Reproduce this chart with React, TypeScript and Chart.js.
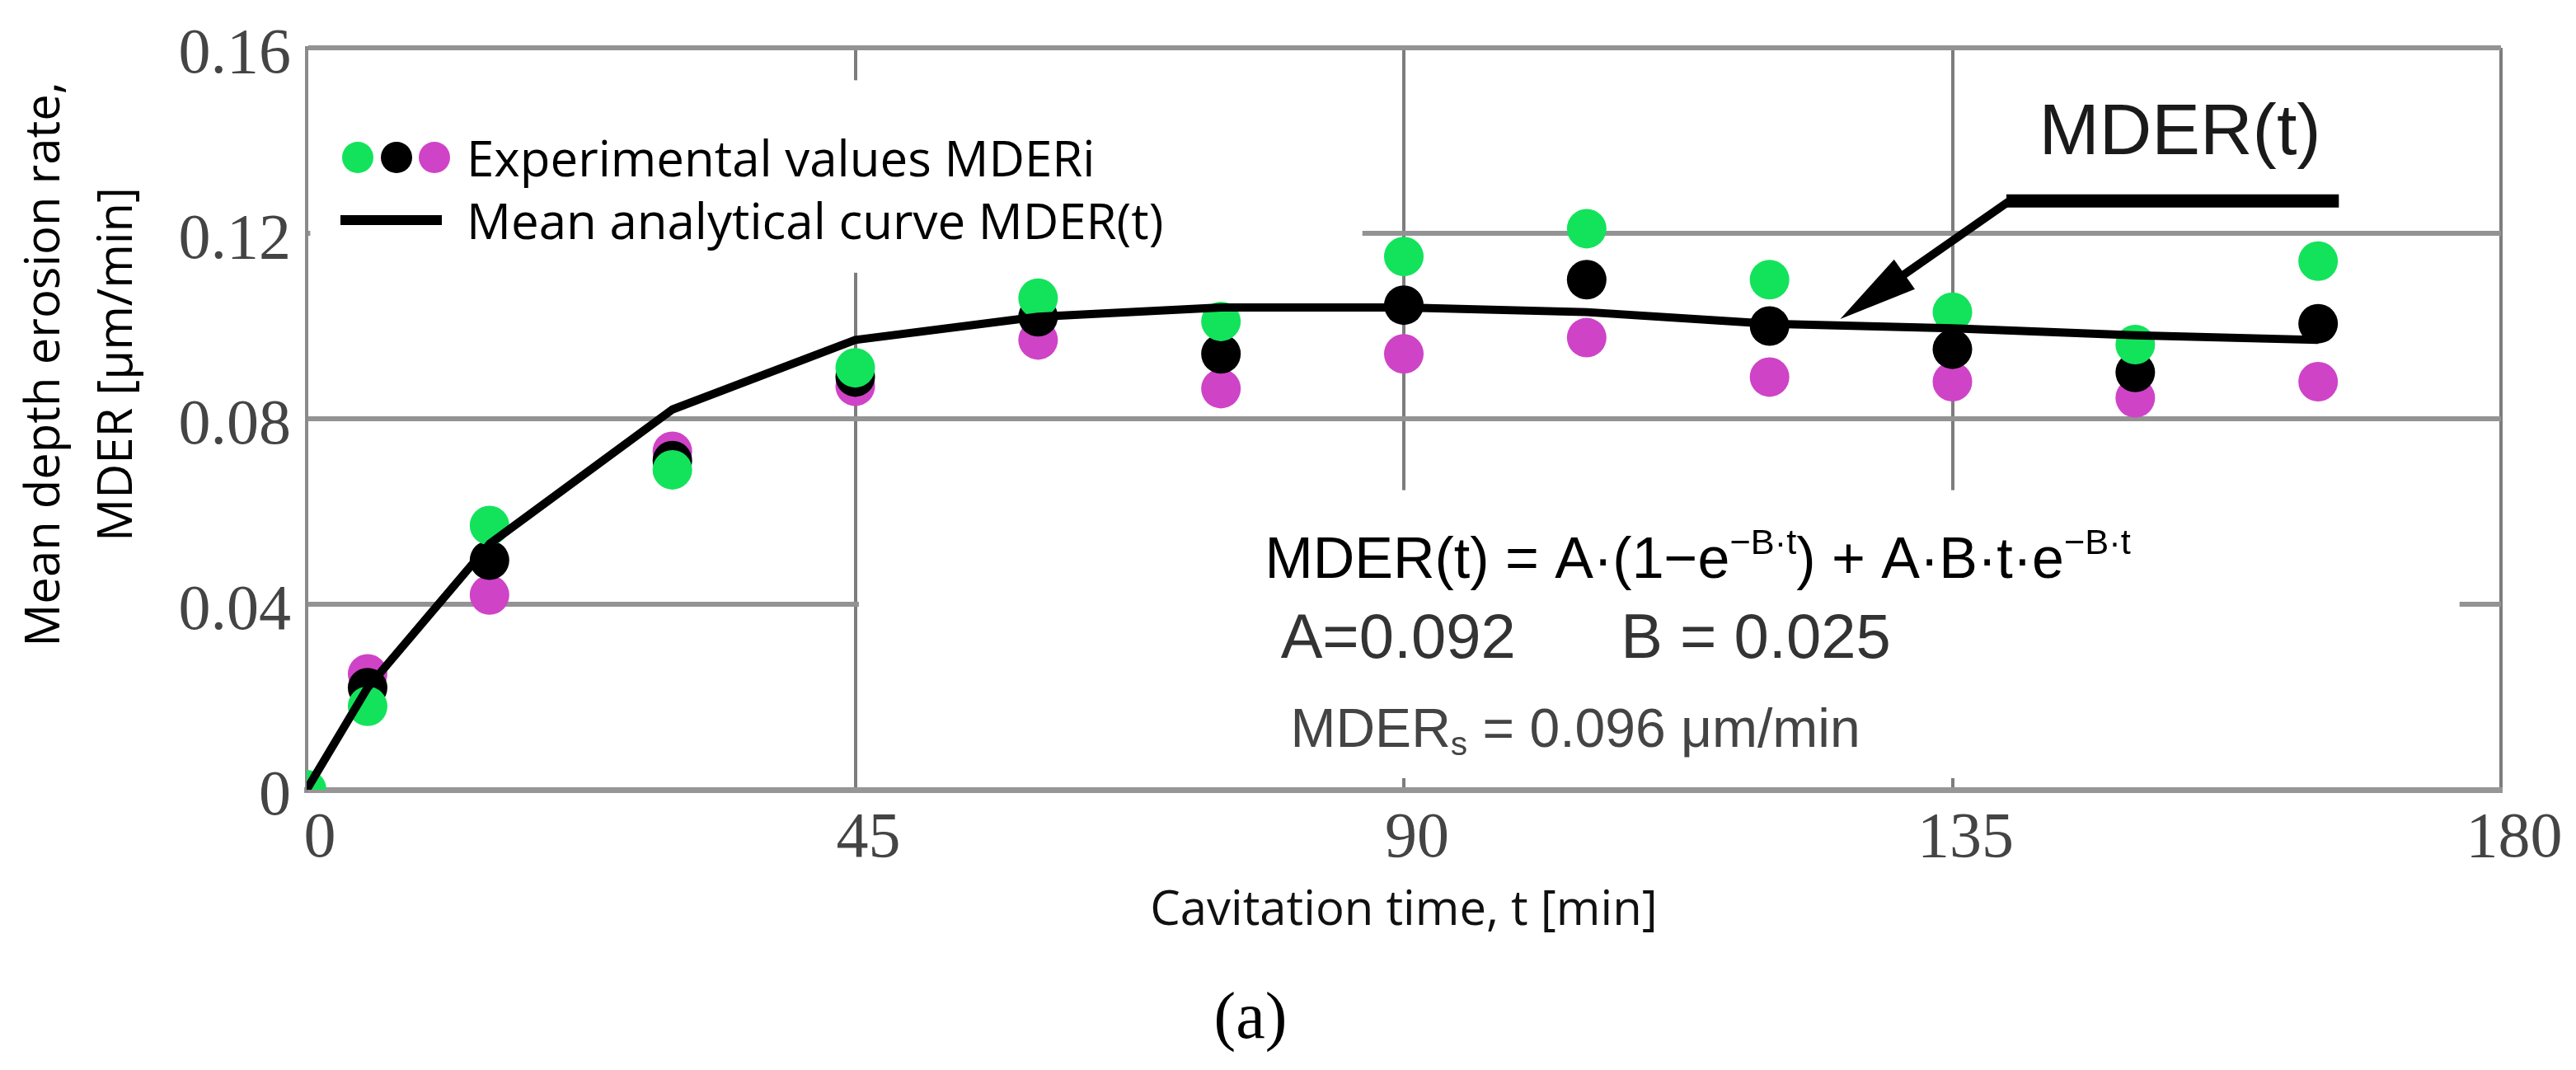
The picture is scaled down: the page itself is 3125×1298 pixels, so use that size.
import { useEffect, useRef } from "react"
import { Chart, registerables } from "chart.js"
import type { Plugin } from "chart.js"

Chart.register(...registerables)

// cavitation time, min
const times = [0, 5, 15, 30, 45, 60, 75, 90, 105, 120, 135, 150, 165]

// experimental MDERi of the three specimens, µm/min
const greenValues = [0, 0.018, 0.057, 0.069, 0.091, 0.106, 0.101, 0.115, 0.121, 0.11, 0.103, 0.096, 0.114]
const blackValues = [null, 0.022, 0.0495, 0.071, 0.089, 0.102, 0.094, 0.1045, 0.11, 0.1, 0.095, 0.09, 0.1005]
const magentaValues = [null, 0.025, 0.042, 0.073, 0.087, 0.097, 0.0865, 0.094, 0.0975, 0.089, 0.088, 0.0845, 0.088]

// mean analytical curve MDER(t)
const curveValues = [0, 0.022, 0.053, 0.082, 0.097, 0.102, 0.104, 0.104, 0.103, 0.1005, 0.0995, 0.098, 0.097]

const xTicks = [0, 45, 90, 135, 180]
const yTicks = [0, 0.04, 0.08, 0.12, 0.16]

const GREEN = "#12e35b"
const BLACK = "#000000"
const MAGENTA = "#cf43c7"
const SANS = '"Open Sans", sans-serif'
const ARIAL = '"Liberation Sans", Arial, sans-serif'
const SERIF = '"Liberation Serif", serif'

const toPoints = (values: (number | null)[]) =>
  times.flatMap((t, i) => (values[i] === null ? [] : [{ x: t, y: values[i] as number }]))

type Run = [string, "n" | "sup" | "sub"]

function drawRuns(ctx: CanvasRenderingContext2D, runs: Run[], x: number, y: number, size: number) {
  let cx = x
  for (const [text, kind] of runs) {
    const s = kind === "n" ? size : size * 0.62
    const dy = kind === "sup" ? -size * 0.42 : kind === "sub" ? size * 0.16 : 0
    ctx.font = `${s}px ${ARIAL}`
    ctx.fillText(text, cx, y + dy)
    cx += ctx.measureText(text).width
  }
}

const annotations: Plugin<"scatter"> = {
  id: "mderAnnotations",
  beforeDatasetsDraw(chart) {
    const { ctx, scales } = chart
    const x = scales.x
    const y = scales.y
    // white backing boxes of the legend and of the formula
    const boxes = [
      [0.3, 86.6, 0.1115, 0.153],
      [45.3, 176.6, 0.0025, 0.0646],
    ]
    ctx.save()
    ctx.fillStyle = "#ffffff"
    for (const [x0, x1, y0, y1] of boxes) {
      const l = x.getPixelForValue(x0)
      const r = x.getPixelForValue(x1)
      const t = y.getPixelForValue(y1)
      const b = y.getPixelForValue(y0)
      ctx.fillRect(l, t, r - l, b - t)
    }
    ctx.restore()
  },
  afterDatasetsDraw(chart) {
    const { ctx, scales, chartArea } = chart
    const x = scales.x
    const y = scales.y
    const { left, top } = chartArea
    ctx.save()

    // legend
    ;[
      [62, GREEN],
      [109, BLACK],
      [155, MAGENTA],
    ].forEach(([dx, color]) => {
      ctx.beginPath()
      ctx.fillStyle = color as string
      ctx.arc(left + (dx as number), top + 133, 19, 0, Math.PI * 2)
      ctx.fill()
    })
    ctx.strokeStyle = "#000"
    ctx.lineWidth = 12
    ctx.lineCap = "butt"
    ctx.beginPath()
    ctx.moveTo(left + 41, top + 209)
    ctx.lineTo(left + 164, top + 209)
    ctx.stroke()
    ctx.fillStyle = "#000"
    ctx.font = `60px ${SANS}`
    ctx.textBaseline = "alphabetic"
    ctx.textAlign = "left"
    ctx.fillText("Experimental values MDERi", left + 194, top + 156)
    ctx.fillText("Mean analytical curve MDER(t)", left + 194, top + 232)

    // formula block
    ctx.fillStyle = "#000"
    drawRuns(
      ctx,
      [
        ["MDER(t) = A·(1−e", "n"],
        ["−B·t", "sup"],
        [") + A·B·t·e", "n"],
        ["−B·t", "sup"],
      ],
      x.getPixelForValue(78.6),
      y.getPixelForValue(0.0457),
      70
    )
    ctx.fillStyle = "#333"
    ctx.font = `76px ${ARIAL}`
    ctx.fillText("A=0.092", x.getPixelForValue(79.9), y.getPixelForValue(0.0285))
    ctx.fillText("B = 0.025", x.getPixelForValue(107.8), y.getPixelForValue(0.0285))
    ctx.fillStyle = "#444"
    drawRuns(
      ctx,
      [
        ["MDER", "n"],
        ["s", "sub"],
        [" = 0.096 μm/min", "n"],
      ],
      x.getPixelForValue(80.7),
      y.getPixelForValue(0.0093),
      66
    )

    // MDER(t) callout with arrow
    ctx.fillStyle = "#1a1a1a"
    ctx.font = `88px ${ARIAL}`
    ctx.fillText("MDER(t)", x.getPixelForValue(142.1), y.getPixelForValue(0.137))
    const barY = y.getPixelForValue(0.127)
    const bx0 = x.getPixelForValue(139.7)
    const bx1 = x.getPixelForValue(166.7)
    ctx.strokeStyle = "#000"
    ctx.lineWidth = 16
    ctx.beginPath()
    ctx.moveTo(bx0 - 4, barY)
    ctx.lineTo(bx1, barY)
    ctx.stroke()
    const tipX = x.getPixelForValue(125.8)
    const tipY = y.getPixelForValue(0.1015)
    const dx = tipX - bx0
    const dy = tipY - barY
    const len = Math.hypot(dx, dy)
    const ux = dx / len
    const uy = dy / len
    const headLen = 95
    const headHalf = 22
    const baseX = tipX - ux * headLen
    const baseY = tipY - uy * headLen
    ctx.lineWidth = 10
    ctx.beginPath()
    ctx.moveTo(bx0, barY)
    ctx.lineTo(baseX + ux * 10, baseY + uy * 10)
    ctx.stroke()
    ctx.fillStyle = "#000"
    ctx.beginPath()
    ctx.moveTo(tipX, tipY)
    ctx.lineTo(baseX - uy * headHalf, baseY + ux * headHalf)
    ctx.lineTo(baseX + uy * headHalf, baseY - ux * headHalf)
    ctx.closePath()
    ctx.fill()

    ctx.restore()
  },
  afterDraw(chart) {
    const { ctx, chartArea } = chart
    // y axis title, two rotated lines
    ctx.save()
    ctx.fillStyle = "#000"
    ctx.font = `58px ${SANS}`
    ctx.textAlign = "center"
    ctx.textBaseline = "middle"
    const cy = chartArea.top + 384
    ;[
      ["Mean depth erosion rate,", chartArea.left - 317],
      ["MDER [μm/min]", chartArea.left - 229],
    ].forEach(([text, cx]) => {
      ctx.save()
      ctx.translate(cx as number, cy)
      ctx.rotate(-Math.PI / 2)
      ctx.fillText(text as string, 0, 0)
      ctx.restore()
    })
    ctx.restore()
  },
}

export default function App() {
  const canvasRef = useRef<HTMLCanvasElement>(null)
  const chartRef = useRef<Chart<"scatter"> | null>(null)

  useEffect(() => {
    if (!canvasRef.current) return
    if (chartRef.current) chartRef.current.destroy()
    const ctx = canvasRef.current.getContext("2d")
    if (!ctx) return

    chartRef.current = new Chart(ctx, {
      type: "scatter",
      data: {
        datasets: [
          {
            label: "Mean analytical curve MDER(t)",
            data: toPoints(curveValues),
            showLine: true,
            borderColor: "#000",
            borderWidth: 10,
            borderJoinStyle: "round",
            pointRadius: 0,
            tension: 0,
            order: 0,
          },
          {
            label: "MDERi (green)",
            data: toPoints(greenValues),
            backgroundColor: GREEN,
            borderWidth: 0,
            pointRadius: 24,
            order: 1,
          },
          {
            label: "MDERi (black)",
            data: toPoints(blackValues),
            backgroundColor: BLACK,
            borderWidth: 0,
            pointRadius: 24,
            order: 2,
          },
          {
            label: "MDERi (magenta)",
            data: toPoints(magentaValues),
            backgroundColor: MAGENTA,
            borderWidth: 0,
            pointRadius: 24,
            order: 3,
          },
        ],
      },
      options: {
        responsive: true,
        maintainAspectRatio: false,
        animation: false,
        events: [],
        layout: { padding: { left: 0, top: 44, right: 91, bottom: 0 } },
        scales: {
          x: {
            type: "linear",
            min: 0,
            max: 180,
            afterBuildTicks: (scale) => {
              scale.ticks = xTicks.map((value) => ({ value }))
            },
            afterFit: (scale) => {
              scale.height = 232
            },
            ticks: {
              font: { family: SERIF, size: 78, lineHeight: 1 },
              color: "#444",
              padding: 22,
              labelOffset: 16,
              maxRotation: 0,
              callback: (v) => String(v),
            },
            grid: { color: "#7d7d7d", lineWidth: 4, drawTicks: false },
            border: { display: true, color: "#969696", width: 7 },
            title: {
              display: true,
              text: "Cavitation time, t [min]",
              font: { family: SANS, size: 58 },
              color: "#111",
              padding: { top: 0, bottom: 50 },
            },
          },
          y: {
            type: "linear",
            min: 0,
            max: 0.16,
            afterBuildTicks: (scale) => {
              scale.ticks = yTicks.map((value) => ({ value }))
            },
            afterFit: (scale) => {
              scale.width = 372
            },
            ticks: {
              font: { family: SERIF, size: 78, lineHeight: 1 },
              color: "#444",
              padding: 19,
              labelOffset: 10,
              callback: (v) => (Number(v) === 0 ? "0" : Number(v).toFixed(2)),
            },
            grid: { color: "#939393", lineWidth: 6, drawTicks: false },
            border: { display: true, color: "#8a8a8a", width: 4 },
          },
        },
        plugins: {
          legend: { display: false },
          tooltip: { enabled: false },
          title: {
            display: true,
            text: "(a)",
            position: "bottom",
            color: "#000",
            font: { family: SERIF, size: 80, weight: "normal" },
            padding: { top: 0, bottom: 12 },
          },
        },
      },
      plugins: [annotations],
    })

    return () => {
      if (chartRef.current) {
        chartRef.current.destroy()
        chartRef.current = null
      }
    }
  }, [])

  return (
    <div style={{ position: "absolute", left: 0, top: 0, width: 3125, height: 1298, background: "#fff" }}>
      <canvas ref={canvasRef} />
    </div>
  )
}
